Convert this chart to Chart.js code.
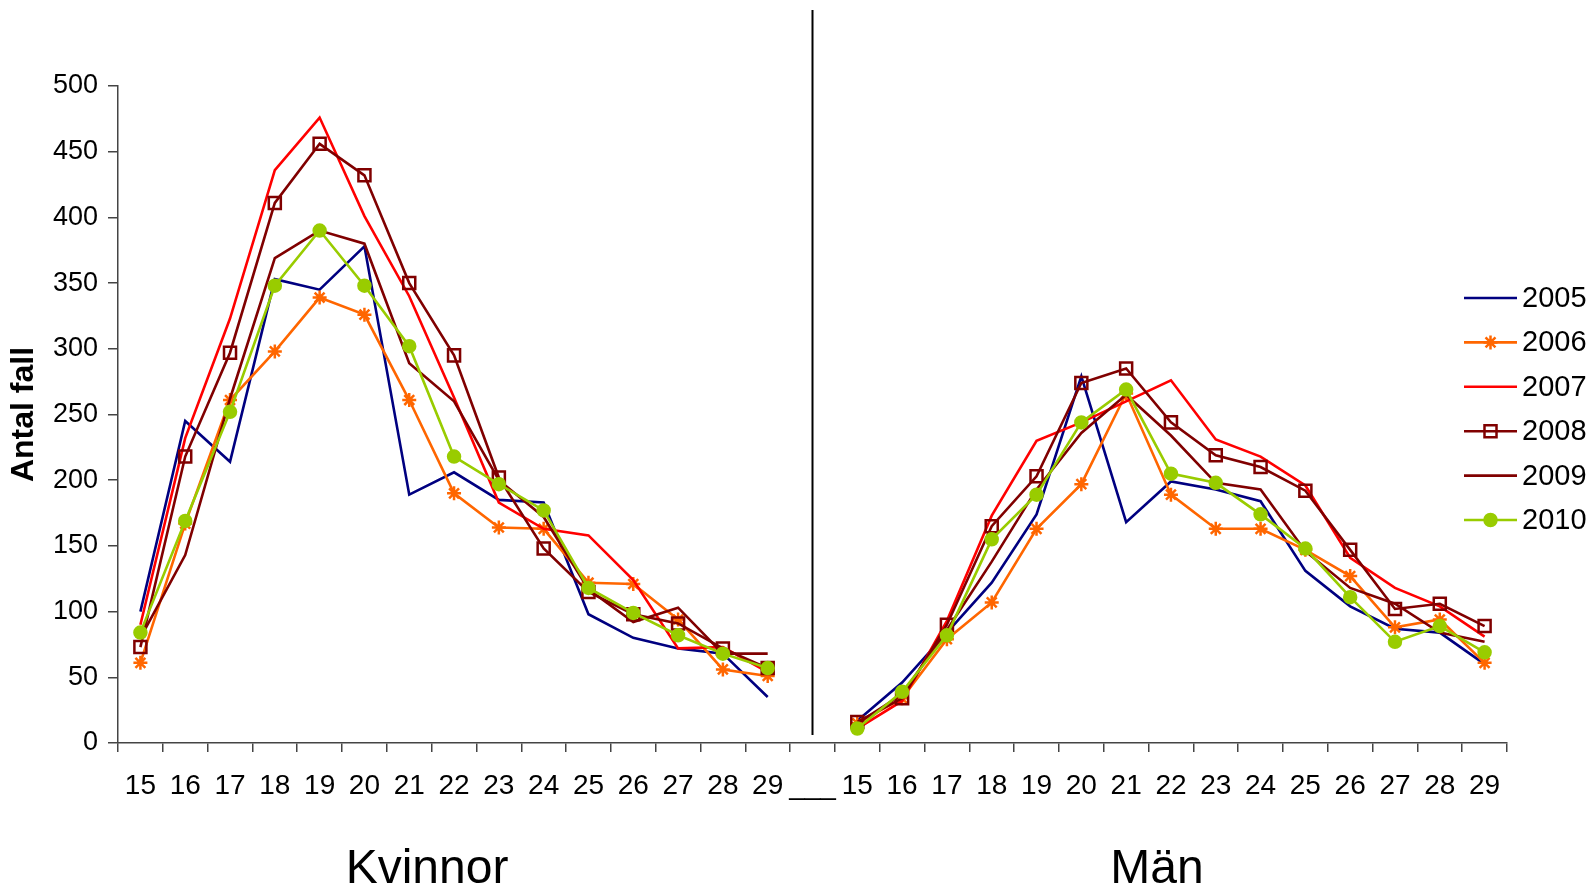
<!DOCTYPE html>
<html>
<head>
<meta charset="utf-8">
<script src="https://cdn.jsdelivr.net/npm/chart.js@4/dist/chart.umd.min.js"></script>
<style>
  html, body { margin: 0; padding: 0; background: #fff; }
  #wrap { width: 1594px; height: 887px; }
</style>
</head>
<body>
<div id="wrap"><canvas id="c" width="1594" height="887"></canvas></div>
<script>
// ---- categories / tick labels ----
const ages = ['15','16','17','18','19','20','21','22','23','24','25','26','27','28','29'];
const gapLabel = '___';
const groupLabels = ['Kvinnor', 'Män'];
const years = ['2005','2006','2007','2008','2009','2010'];
const yTicksMax = 500;
const yTicksStep = 50;

// ---- Kvinnor (women) ----
const kv2005 = [100, 245, 214, 353, 345, 378, 189, 206, 185, 183, 98, 80, 72, 68, 35];
const kv2006 = [61, 167, 261, 298, 339, 326, 261, 190, 164, 163, 122, 121, 94, 56, 51];
const kv2007 = [90, 232, 323, 436, 476, 401, 340, 263, 183, 163, 158, 124, 72, 73, 54];
const kv2008 = [73, 218, 297, 411, 456, 432, 350, 295, 202, 148, 115, 98, 91, 72, 57];
const kv2009 = [80, 143, 262, 369, 390, 380, 289, 260, 200, 172, 117, 92, 103, 68, 68];
const kv2010 = [84, 169, 252, 348, 390, 348, 302, 218, 197, 177, 118, 99, 82, 68, 57];

// ---- Män (men) ----
const man2005 = [17, 46, 84, 122, 174, 279, 168, 199, 193, 184, 131, 104, 87, 84, 60];
const man2006 = [15, 34, 79, 107, 163, 197, 266, 189, 163, 163, 147, 127, 88, 94, 61];
const man2007 = [11, 32, 93, 173, 230, 244, 260, 276, 231, 218, 196, 141, 118, 104, 81];
const man2008 = [16, 34, 90, 165, 203, 274, 285, 244, 219, 210, 192, 147, 102, 106, 89];
const man2009 = [15, 37, 86, 138, 193, 236, 265, 234, 198, 193, 146, 118, 106, 84, 77];
const man2010 = [11, 39, 82, 155, 189, 244, 269, 205, 198, 174, 148, 111, 77, 89, 69];

const FONT = '"Liberation Sans", Arial, sans-serif';

const labels = [...ages, gapLabel, ...ages];
const join = (a, b) => [...a, null, ...b];

const styles = [
  { color: '#000080', pointStyle: 'circle', radius: 0, fill: '#000080' },
  { color: '#FF6600', pointStyle: 'star', radius: 7, fill: '#FF6600' },
  { color: '#FF0000', pointStyle: 'circle', radius: 0, fill: '#FF0000' },
  { color: '#800000', pointStyle: 'rect', radius: 8.5, fill: 'rgba(255,255,255,0)' },
  { color: '#800000', pointStyle: 'circle', radius: 0, fill: '#800000' },
  { color: '#99CC00', pointStyle: 'circle', radius: 6, fill: '#99CC00' }
];
const seriesData = [
  join(kv2005, man2005), join(kv2006, man2006), join(kv2007, man2007),
  join(kv2008, man2008), join(kv2009, man2009), join(kv2010, man2010)
];

const datasets = years.map((y, i) => ({
  label: y,
  data: seriesData[i],
  borderColor: styles[i].color,
  backgroundColor: styles[i].fill,
  borderWidth: 2.6,
  pointStyle: styles[i].pointStyle,
  pointRadius: styles[i].radius,
  pointBorderColor: styles[i].color,
  pointBackgroundColor: styles[i].fill,
  pointBorderWidth: 2.5,
  pointHoverRadius: styles[i].radius,
  tension: 0,
  spanGaps: false,
  order: 6 - i
}));

const decorPlugin = {
  id: 'decor',
  afterDraw(chart) {
    const ctx = chart.ctx;
    const xs = chart.scales.x, ys = chart.scales.y;
    // vertical divider at gap category
    const gx = xs.getPixelForValue(ages.length);
    ctx.save();
    ctx.strokeStyle = '#000';
    ctx.lineWidth = 2;
    ctx.beginPath();
    ctx.moveTo(gx, 10);
    ctx.lineTo(gx, ys.getPixelForValue(0) - 8);
    ctx.stroke();

    // group labels
    ctx.fillStyle = '#000';
    ctx.font = '48px ' + FONT;
    ctx.textAlign = 'center';
    ctx.textBaseline = 'alphabetic';
    ctx.fillText(groupLabels[0], 427, 883);
    ctx.fillText(groupLabels[1], 1157, 883);

    // legend
    const lx0 = 1464, lx1 = 1517, ty0 = 298, dy = 44.4;
    chart.data.datasets.forEach((ds, i) => {
      const yy = ty0 + i * dy;
      ctx.strokeStyle = ds.borderColor;
      ctx.lineWidth = 2.6;
      ctx.beginPath();
      ctx.moveTo(lx0, yy);
      ctx.lineTo(lx1, yy);
      ctx.stroke();
      if (ds.pointRadius > 0) {
        ctx.strokeStyle = ds.pointBorderColor;
        ctx.fillStyle = ds.pointBackgroundColor;
        ctx.lineWidth = 2.5;
        Chart.helpers.drawPoint(ctx, {
          pointStyle: ds.pointStyle,
          rotation: 0,
          radius: ds.pointRadius,
          borderWidth: 2.5
        }, (lx0 + lx1) / 2, yy);
      }
      ctx.fillStyle = '#000';
      ctx.font = '29px ' + FONT;
      ctx.textAlign = 'left';
      ctx.textBaseline = 'middle';
      ctx.fillText(ds.label, 1522, yy + 1);
    });
    ctx.restore();
  }
};

const chart = new Chart(document.getElementById('c'), {
  type: 'line',
  data: { labels, datasets },
  options: {
    responsive: false,
    animation: false,
    events: [],
    layout: { padding: { left: 0, right: 87, top: 86, bottom: 0 } },
    plugins: {
      legend: { display: false },
      tooltip: { enabled: false }
    },
    scales: {
      x: {
        type: 'category',
        offset: true,
        grid: { offset: true, drawOnChartArea: false, drawTicks: true, tickLength: 9, color: '#444', lineWidth: 1.5 },
        border: { display: true, color: '#444', width: 1.5 },
        ticks: { autoSkip: false, maxRotation: 0, minRotation: 0, color: '#000', font: { family: FONT, size: 28 }, padding: 17 },
        afterFit(scale) { scale.height = 144; }
      },
      y: {
        min: 0, max: yTicksMax,
        grid: { drawOnChartArea: false, drawTicks: true, tickLength: 10, color: '#444', lineWidth: 1.5 },
        border: { display: true, color: '#444', width: 1.5 },
        ticks: { stepSize: yTicksStep, color: '#000', font: { family: FONT, size: 27 }, padding: 10 },
        title: { display: true, text: 'Antal fall', color: '#000', font: { family: FONT, size: 32, weight: 'bold' }, padding: { top: 5, bottom: 0 } },
        afterFit(scale) { scale.width = 118; }
      }
    }
  },
  plugins: [decorPlugin]
});
</script>
</body>
</html>
